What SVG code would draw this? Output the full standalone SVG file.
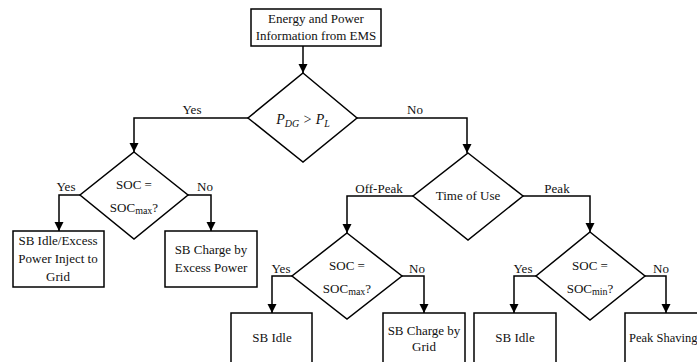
<svg xmlns="http://www.w3.org/2000/svg" width="697" height="362" viewBox="0 0 697 362">
<defs>
<marker id="arr" markerUnits="userSpaceOnUse" markerWidth="10" markerHeight="13" refX="9" refY="4.5" orient="auto">
<path d="M0,0 L9,4.5 L0,9 Z" fill="#000"/>
</marker>
</defs>
<style>
.n{fill:#fff;stroke:#000;stroke-width:1.5}
.c{fill:none;stroke:#000;stroke-width:1.5;marker-end:url(#arr)}
text{font-family:'Liberation Serif','DejaVu Serif',serif;font-size:13px;fill:#111}
.m{text-anchor:middle}
.i{font-style:italic;font-size:14px}
</style>
<rect width="697" height="362" fill="#fff"/>
<g id="connectors">
<path class="c" d="M303,46 V73"/>
<path class="c" d="M248,118 H134 V152"/>
<path class="c" d="M357,118 H467 V153"/>
<path class="c" d="M80,195 H59 V231"/>
<path class="c" d="M188,195 H211 V231"/>
<path class="c" d="M413,196 H347 V233"/>
<path class="c" d="M523,196 H590 V232"/>
<path class="c" d="M292,276 H272 V313"/>
<path class="c" d="M402,276 H424 V313"/>
<path class="c" d="M536,276 H514 V313"/>
<path class="c" d="M645,276 H666 V313"/>
<text class="m" x="192" y="114">Yes</text>
<text class="m" x="415" y="114">No</text>
<text class="m" x="66" y="191">Yes</text>
<text class="m" x="205" y="191">No</text>
<text class="m" x="379" y="193">Off-Peak</text>
<text class="m" x="557" y="193">Peak</text>
<text class="m" x="281" y="273">Yes</text>
<text class="m" x="417" y="273">No</text>
<text class="m" x="523" y="273">Yes</text>
<text class="m" x="661" y="273">No</text>
</g>
<g id="start">
<rect class="n" x="251" y="9" width="130" height="37"/>
<text class="m" x="316" y="23">Energy and Power</text>
<text class="m" x="316" y="40">Information from EMS</text>
</g>
<g id="d-pdg">
<polygon class="n" points="303,73 357,118 303,162 248,118"/>
<text class="m i" x="303" y="124">P<tspan font-size="10" dy="3">DG</tspan><tspan dy="-3"> &gt; P</tspan><tspan font-size="10" dy="3">L</tspan></text>
</g>
<g id="d-socmax1">
<polygon class="n" points="134,152 188,195 134,239 80,195"/>
<text class="m" x="134" y="189">SOC =</text>
<text class="m" x="134" y="212">SOC<tspan font-size="10" dy="2">max</tspan><tspan dy="-2">?</tspan></text>
</g>
<g id="b-inject">
<rect class="n" x="13" y="231" width="91" height="56"/>
<text class="m" x="58" y="245">SB Idle/Excess</text>
<text class="m" x="58" y="263">Power Inject to</text>
<text class="m" x="58" y="281">Grid</text>
</g>
<g id="b-excess">
<rect class="n" x="165" y="231" width="92" height="56"/>
<text class="m" x="211" y="254">SB Charge by</text>
<text class="m" x="211" y="272">Excess Power</text>
</g>
<g id="d-tou">
<polygon class="n" points="468,153 523,196 468,240 413,196"/>
<text class="m" x="468" y="200">Time of Use</text>
</g>
<g id="d-socmax2">
<polygon class="n" points="347,233 402,276 347,319 292,276"/>
<text class="m" x="347" y="270">SOC =</text>
<text class="m" x="347" y="293">SOC<tspan font-size="10" dy="2">max</tspan><tspan dy="-2">?</tspan></text>
</g>
<g id="d-socmin">
<polygon class="n" points="590,232 645,276 590,320 536,276"/>
<text class="m" x="590" y="270">SOC =</text>
<text class="m" x="590" y="293">SOC<tspan font-size="10" dy="2">min</tspan><tspan dy="-2">?</tspan></text>
</g>
<g id="b-idle1">
<rect class="n" x="231" y="313" width="81" height="60"/>
<text class="m" x="272" y="342">SB Idle</text>
</g>
<g id="b-grid">
<rect class="n" x="383" y="313" width="82" height="60"/>
<text class="m" x="424" y="335">SB Charge by</text>
<text class="m" x="424" y="351">Grid</text>
</g>
<g id="b-idle2">
<rect class="n" x="474" y="313" width="82" height="60"/>
<text class="m" x="515" y="342">SB Idle</text>
</g>
<g id="b-peak">
<rect class="n" x="625" y="313" width="90" height="60"/>
<text x="629" y="342" style="font-size:12.5px">Peak Shaving</text>
</g>
</svg>
